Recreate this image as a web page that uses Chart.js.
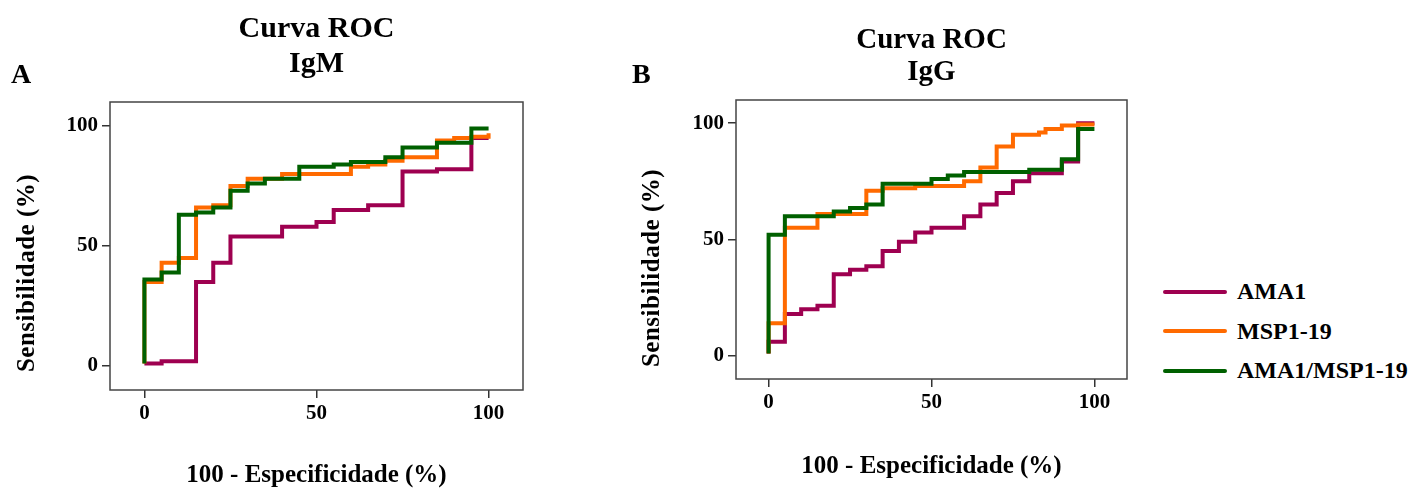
<!DOCTYPE html>
<html>
<head>
<meta charset="utf-8">
<script src="https://cdn.jsdelivr.net/npm/chart.js@4.4.0/dist/chart.umd.min.js"></script>
<style>
  body { margin: 0; background: #fff; width: 1420px; height: 488px; position: relative; overflow: hidden; }
  canvas { position: absolute; top: 0; }
  .letter { position: absolute; font: bold 28px "Liberation Serif", serif; color: #000; line-height: 28px; }
  .ytitle { position: absolute; width: 260px; height: 26px; line-height: 26px; text-align: center;
            font: bold 25px "Liberation Serif", serif; letter-spacing: 0.5px; color: #000;
            transform: translate(-50%, -50%) rotate(-90deg); white-space: nowrap; }
  #legend { position: absolute; left: 1163px; top: 272px; font: bold 24px "Liberation Serif", serif; color: #000; }
  .item { display: flex; align-items: center; height: 39.5px; white-space: nowrap; }
  .swatch { width: 64px; height: 4px; border-radius: 2px; margin-right: 10px; }
</style>
</head>
<body>
<canvas id="igm" width="620" height="488" style="left:0"></canvas>
<canvas id="igg" width="540" height="488" style="left:620px"></canvas>
<div class="letter" style="left:11px;top:60px">A</div>
<div class="letter" style="left:632px;top:60px">B</div>
<div class="ytitle" style="left:25px;top:273px">Sensibilidade (%)</div>
<div class="ytitle" style="left:650px;top:268px">Sensibilidade (%)</div>
<div id="legend"></div>
<script>
Chart.defaults.color = '#000';
Chart.defaults.font.family = '"Liberation Serif", serif';
Chart.defaults.font.weight = 'bold';

const seriesNames = ['AMA1', 'MSP1-19', 'AMA1/MSP1-19'];
const seriesColors = ['#9E0050', '#FF6A00', '#006000'];
const tickValues = [0, 50, 100];

// IgM (panel A)
const igmAma1X = [0, 5, 15, 20, 25, 40, 50, 55, 65, 75, 85, 95, 100];
const igmAma1Y = [1, 2, 35, 43, 54, 58, 60, 65, 67, 81, 82, 95, 95];
const igmMspX = [0, 0, 5, 10, 15, 20, 25, 30, 40, 60, 65, 70, 75, 85, 90, 95, 100];
const igmMspY = [1, 35, 43, 45, 66, 67, 75, 78, 80, 83, 84, 85.5, 87, 94, 95, 95.5, 97];
const igmComboX = [0, 0, 5, 10, 15, 20, 25, 30, 35, 45, 55, 60, 70, 75, 85, 95, 100];
const igmComboY = [1, 36, 39, 63, 64, 66, 73, 76, 78, 83, 84, 85, 87, 91, 93, 99, 99];

// IgG (panel B)
const iggAma1X = [0, 0, 5, 10, 15, 20, 25, 30, 35, 40, 45, 50, 60, 65, 70, 75, 80, 90, 95, 100];
const iggAma1Y = [1, 6, 18, 20, 21.5, 35, 37, 38.5, 45, 49, 53, 55, 60, 65, 70, 75, 78.5, 83.5, 100, 100];
const iggMspX = [0, 0, 5, 15, 30, 35, 45, 60, 65, 70, 75, 83, 85, 90, 95, 100];
const iggMspY = [1, 14, 55, 61, 71, 72, 73, 75, 81, 90, 95, 96, 97.5, 99, 99.5, 99.5];
const iggComboX = [0, 0, 5, 20, 25, 30, 35, 50, 55, 60, 80, 90, 95, 100];
const iggComboY = [1, 52, 60, 62, 63.5, 65, 74, 76, 77.5, 79, 80, 84.5, 97.5, 97.5];

const toPoints = (xs, ys) => xs.map((x, i) => ({ x: x, y: ys[i] }));

// box round the plot area
const frame = {
  id: 'frame',
  afterDraw(chart) {
    const { ctx, chartArea: a } = chart;
    ctx.save();
    ctx.strokeStyle = '#444';
    ctx.lineWidth = 1.5;
    ctx.strokeRect(a.left, a.top, a.right - a.left, a.bottom - a.top);
    ctx.restore();
  }
};

function makeChart(id, title, series, lay) {
  const setTicks = scale => { scale.ticks = tickValues.map(v => ({ value: v })); };
  const axisGrid = { drawOnChartArea: false, tickLength: 8, color: '#333', lineWidth: 1.5 };
  return new Chart(document.getElementById(id), {
    type: 'line',
    data: {
      datasets: series.map((s, i) => ({
        label: seriesNames[i],
        data: toPoints(s[0], s[1]),
        borderColor: seriesColors[i],
        borderWidth: 4,
        pointRadius: 0,
        stepped: 'before',
        fill: false,
        order: 2 - i
      }))
    },
    options: {
      responsive: false,
      animation: false,
      devicePixelRatio: 1,
      layout: { padding: { left: 0, right: lay.padRight, top: 0, bottom: 0 } },
      plugins: {
        legend: { display: false },
        tooltip: { enabled: false },
        title: {
          display: true,
          fullSize: false,
          text: title,
          color: '#000',
          font: { size: lay.titleSize, weight: 'bold', lineHeight: lay.titleLine },
          padding: { top: lay.titleTop, bottom: lay.titleBottom }
        }
      },
      scales: {
        x: {
          type: 'linear',
          min: -10,
          max: 110,
          afterBuildTicks: setTicks,
          afterFit: scale => { scale.height = lay.xHeight; },
          grid: axisGrid,
          border: { display: false },
          ticks: { font: { size: 21, weight: 'bold' }, padding: 3, maxRotation: 0 },
          title: {
            display: true,
            text: '100 - Especificidade (%)',
            font: { size: 25, weight: 'bold', lineHeight: 1 },
            padding: { top: 0, bottom: lay.xTitlePad }
          }
        },
        y: {
          type: 'linear',
          min: -10,
          max: 110,
          afterBuildTicks: setTicks,
          afterFit: scale => { scale.width = lay.yWidth; },
          grid: axisGrid,
          border: { display: false },
          ticks: { font: { size: 21, weight: 'bold' }, padding: 4 }
        }
      }
    },
    plugins: [frame]
  });
}

makeChart('igm', ['Curva ROC', 'IgM'],
  [[igmAma1X, igmAma1Y], [igmMspX, igmMspY], [igmComboX, igmComboY]],
  { padRight: 97, titleSize: 30, titleLine: 1.1667, titleTop: 12, titleBottom: 20, xHeight: 98, xTitlePad: 0, yWidth: 110 });

makeChart('igg', ['Curva ROC', 'IgG'],
  [[iggAma1X, iggAma1Y], [iggMspX, iggMspY], [iggComboX, iggComboY]],
  { padRight: 33, titleSize: 29, titleLine: 1.1034, titleTop: 25, titleBottom: 11, xHeight: 109, xTitlePad: 8.5, yWidth: 116 });

// legend built from the series arrays
const legend = document.getElementById('legend');
seriesNames.forEach((name, i) => {
  const row = document.createElement('div');
  row.className = 'item';
  const sw = document.createElement('span');
  sw.className = 'swatch';
  sw.style.background = seriesColors[i];
  const label = document.createElement('span');
  label.textContent = name;
  row.appendChild(sw);
  row.appendChild(label);
  legend.appendChild(row);
});
</script>
</body>
</html>
